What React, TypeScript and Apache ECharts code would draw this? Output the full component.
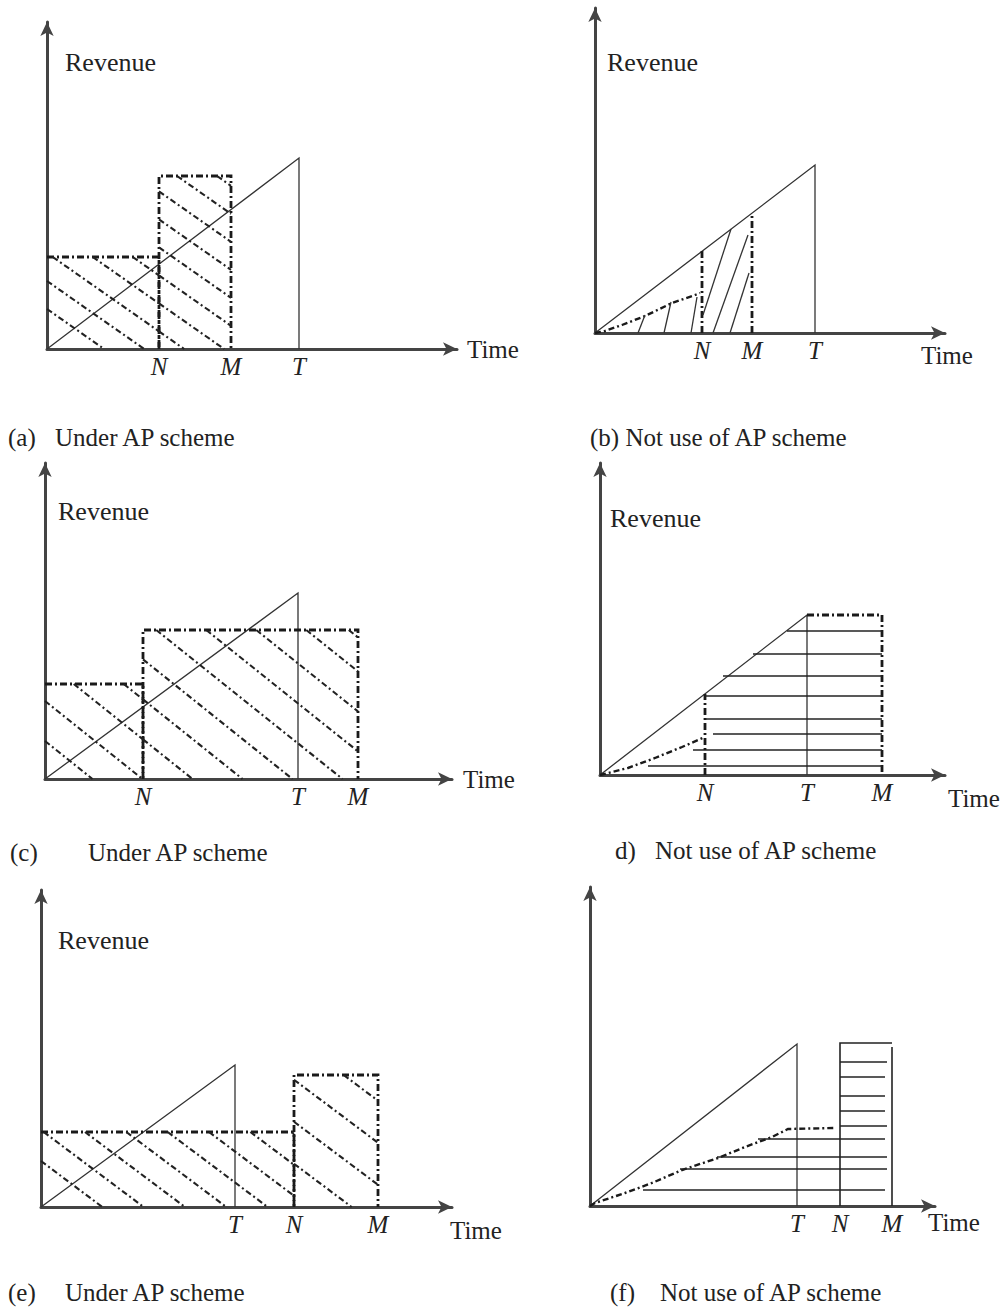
import React, { useEffect, useRef } from "react";
import * as echarts from "echarts";

const FONT = "'Liberation Serif', 'Times New Roman', serif";

// ---------- data (pixel-unit offsets from each panel's origin) ----------
// (a) Under AP scheme
const A_TICK_NAMES = ["N", "M", "T"];
const A_TICK_VALUES = [112, 184, 252];
const A_REVENUE = [[0, 0], [252, 191], [252, 0]];
const A_BOX1 = [[0, 92], [112, 92], [112, 0]];
const A_BOX2 = [[112, 0], [112, 173], [184, 173], [184, 0]];
const A_HATCH1 = [40, 68, 96, 124, 152];
const A_HATCH2 = [96, 124, 152, 180, 208, 236, 264, 292];

// (b) Not use of AP scheme
const B_TICK_NAMES = ["N", "M", "T"];
const B_TICK_VALUES = [107, 157, 220];
const B_REVENUE = [[0, 0], [220, 168], [220, 0]];
const B_N_DROP = [[107, 0], [107, 82]];
const B_M_DROP = [[157, 0], [157, 120]];
const B_CURVE = [[0, 0], [10, 2], [27, 8], [50, 17], [77, 30], [100, 38], [105, 40]];
const B_STROKES = [
  [[43, 0], [50, 18]],
  [[69, 0], [76, 31]],
  [[96, 0], [102, 36]],
  [[108, 18], [136, 104]],
  [[118, 0], [153, 98]],
  [[135, 0], [154, 60]],
];

// (c) Under AP scheme
const C_TICK_NAMES = ["N", "T", "M"];
const C_TICK_VALUES = [98, 253, 313];
const C_REVENUE = [[0, 0], [253, 186], [253, 0]];
const C_BOX1 = [[0, 95], [98, 95], [98, 0]];
const C_BOX2 = [[98, 0], [98, 149], [313, 149], [313, 0]];
const C_HATCH1 = [38, 78, 118, 158];
const C_HATCH2 = [118, 158, 198, 238, 278, 318, 358, 392];

// (d) Not use of AP scheme
const D_TICK_NAMES = ["N", "T", "M"];
const D_TICK_VALUES = [105, 207, 282];
const D_REVENUE = [[0, 0], [207, 160], [207, 0]];
const D_BOX = [[207, 160], [282, 160], [282, 0]];
const D_N_DROP = [[105, 0], [105, 81]];
const D_CURVE = [[0, 0], [8, 2], [28, 7], [55, 17], [82, 28], [105, 38]];
const D_ROW_LEVELS = [144, 121, 99, 79, 56, 41, 25, 9];
const D_ROW_STARTS = [187, 153, 123, 105, 105, 113, 93, 48];
const D_ROW_END = 282;

// (e) Under AP scheme
const E_TICK_NAMES = ["T", "N", "M"];
const E_TICK_VALUES = [194, 253, 337];
const E_REVENUE = [[0, 0], [194, 142], [194, 0]];
const E_BOX1 = [[0, 75], [253, 75], [253, 0]];
const E_BOX2 = [[253, 0], [253, 132], [337, 132], [337, 0]];
const E_HATCH1 = [46, 77, 108, 139, 170, 201, 232, 263];
const E_HATCH2 = [233, 275, 317, 359];

// (f) Not use of AP scheme
const F_TICK_NAMES = ["T", "N", "M"];
const F_TICK_VALUES = [207, 250, 302];
const F_REVENUE = [[0, 0], [207, 162], [207, 0]];
const F_BOX = [[250, 0], [250, 163], [302, 163]];
const F_M_EDGE = [[302, 0], [302, 159]];
const F_CURVE = [[0, 0], [5, 3], [35, 13], [62, 23], [92, 36], [128, 48], [155, 59], [182, 69], [198, 77], [245, 78]];
const F_ROW_LEVELS = [144, 129, 110, 95, 80, 67, 49, 37, 16];
const F_ROW_STARTS = [250, 250, 250, 250, 250, 168, 127, 90, 53];
const F_ROW_ENDS = [297, 295, 295, 295, 297, 295, 297, 297, 295];

// ---------- layout & styles ----------
const LAYOUT = [
  { left: 47, top: 22, width: 410, height: 327 },
  { left: 595, top: 8, width: 350, height: 325 },
  { left: 45, top: 463, width: 407, height: 316 },
  { left: 600, top: 463, width: 345, height: 312 },
  { left: 41, top: 890, width: 411, height: 317 },
  { left: 590, top: 887, width: 345, height: 319 },
];
const SLOPES = [0.7, 0, 0.8, 0, 0.75, 0];

const THIN = { color: "#333", width: 1.3, type: "solid" };
const SOLID = { color: "#222", width: 1.6, type: "solid" };
const BOX = { color: "#1a1a1a", width: 2.8, type: [7, 3, 2, 3] };
const HATCH = { color: "#222", width: 2.1, type: [6, 3, 2, 3] };
const CURVE = { color: "#1a1a1a", width: 2.4, type: [6, 3, 2, 3] };

function hatch(box: number[][], slope: number, intercepts: number[]) {
  const xs = box.map((p) => p[0]);
  const x0 = Math.min(...xs);
  const x1 = Math.max(...xs);
  const h = Math.max(...box.map((p) => p[1]));
  const out: number[][][] = [];
  intercepts.forEach((c) => {
    const xa = Math.max(x0, (c - h) / slope);
    const xb = Math.min(x1, c / slope);
    if (xb > xa + 0.5) out.push([[xa, c - slope * xa], [xb, c - slope * xb]]);
  });
  return out;
}

function lines(gi: number, paths: number[][][], style: any, name: string) {
  return {
    type: "lines",
    name,
    coordinateSystem: "cartesian2d",
    xAxisIndex: gi,
    yAxisIndex: gi,
    polyline: true,
    silent: true,
    symbol: "none",
    lineStyle: { ...style, opacity: 1, curveness: 0 },
    data: paths.map((p) => ({ coords: p })),
    z: 3,
  };
}

const AXIS_LINE = {
  show: true,
  onZero: true,
  symbol: ["none", "arrow"],
  symbolSize: [10, 14],
  lineStyle: { color: "#444", width: 3 },
};

const TIME_NAME = [
  { gap: 10, va: "middle", pad: [0, 0, 0, 0] },
  { gap: -24, va: "top", pad: [10, 0, 0, 0] },
  { gap: 11, va: "middle", pad: [12, 0, 0, 0] },
  { gap: 3, va: "top", pad: [11, 0, 0, 0] },
  { gap: -2, va: "top", pad: [11, 0, 0, 0] },
  { gap: -7, va: "top", pad: [4, 0, 0, 0] },
];
const REV_NAME = [
  { show: true, gap: -40, padL: 18 },
  { show: true, gap: -54, padL: 12 },
  { show: true, gap: -48, padL: 13 },
  { show: true, gap: -55, padL: 10 },
  { show: true, gap: -50, padL: 17 },
  { show: false, gap: 0, padL: 0 },
];

const TICKS = [
  [A_TICK_NAMES, A_TICK_VALUES],
  [B_TICK_NAMES, B_TICK_VALUES],
  [C_TICK_NAMES, C_TICK_VALUES],
  [D_TICK_NAMES, D_TICK_VALUES],
  [E_TICK_NAMES, E_TICK_VALUES],
  [F_TICK_NAMES, F_TICK_VALUES],
];

const CAPTIONS = [
  { x: 8, y: 437, text: "(a)" },
  { x: 55, y: 437, text: "Under AP scheme" },
  { x: 590, y: 437, text: "(b) Not use of AP scheme" },
  { x: 10, y: 852, text: "(c)" },
  { x: 88, y: 852, text: "Under AP scheme" },
  { x: 615, y: 850, text: "d)" },
  { x: 655, y: 850, text: "Not use of AP scheme" },
  { x: 8, y: 1292, text: "(e)" },
  { x: 65, y: 1292, text: "Under AP scheme" },
  { x: 610, y: 1292, text: "(f)" },
  { x: 660, y: 1292, text: "Not use of AP scheme" },
];

function buildOption() {
  const grid = LAYOUT.map((l) => ({ ...l, containLabel: false, outerBoundsMode: "none" }));
  const xAxis = LAYOUT.map((l, i) => {
    const [names, values] = TICKS[i] as [string[], number[]];
    const t = TIME_NAME[i];
    return {
      type: "value",
      gridIndex: i,
      min: 0,
      max: l.width,
      axisLine: AXIS_LINE,
      axisTick: { show: false },
      splitLine: { show: false },
      axisLabel: {
        customValues: values,
        formatter: (v: number) => names[values.indexOf(v)] ?? "",
        fontFamily: FONT,
        fontStyle: "italic",
        fontSize: 25,
        color: "#222",
        margin: 5,
      },
      name: "Time",
      nameLocation: "end",
      nameGap: t.gap,
      nameTextStyle: {
        fontFamily: FONT,
        fontSize: 25,
        color: "#222",
        align: "left",
        verticalAlign: t.va,
        padding: t.pad,
      },
    };
  });
  const yAxis = LAYOUT.map((l, i) => {
    const r = REV_NAME[i];
    return {
      type: "value",
      gridIndex: i,
      min: 0,
      max: l.height,
      axisLine: AXIS_LINE,
      axisTick: { show: false },
      splitLine: { show: false },
      axisLabel: { show: false },
      name: r.show ? "Revenue" : "",
      nameLocation: "end",
      nameGap: r.gap,
      nameTextStyle: {
        fontFamily: FONT,
        fontSize: 26,
        color: "#222",
        align: "left",
        verticalAlign: "middle",
        padding: [0, 0, 0, r.padL],
      },
    };
  });

  const series: any[] = [
    // (a)
    lines(0, [A_REVENUE], THIN, "a-revenue"),
    lines(0, [A_BOX1, A_BOX2], BOX, "a-boxes"),
    lines(0, [...hatch(A_BOX1, SLOPES[0], A_HATCH1), ...hatch(A_BOX2, SLOPES[0], A_HATCH2)], HATCH, "a-hatch"),
    // (b)
    lines(1, [B_REVENUE], THIN, "b-revenue"),
    lines(1, [B_N_DROP, B_M_DROP], BOX, "b-drops"),
    lines(1, [B_CURVE], CURVE, "b-curve"),
    lines(1, B_STROKES, THIN, "b-strokes"),
    // (c)
    lines(2, [C_REVENUE], THIN, "c-revenue"),
    lines(2, [C_BOX1, C_BOX2], BOX, "c-boxes"),
    lines(2, [...hatch(C_BOX1, SLOPES[2], C_HATCH1), ...hatch(C_BOX2, SLOPES[2], C_HATCH2)], HATCH, "c-hatch"),
    // (d)
    lines(3, [D_REVENUE], THIN, "d-revenue"),
    lines(3, [D_BOX, D_N_DROP], BOX, "d-box"),
    lines(3, [D_CURVE], CURVE, "d-curve"),
    lines(3, D_ROW_LEVELS.map((y, k) => [[D_ROW_STARTS[k], y], [D_ROW_END, y]]), SOLID, "d-rows"),
    // (e)
    lines(4, [E_REVENUE], THIN, "e-revenue"),
    lines(4, [E_BOX1, E_BOX2], BOX, "e-boxes"),
    lines(4, [...hatch(E_BOX1, SLOPES[4], E_HATCH1), ...hatch(E_BOX2, SLOPES[4], E_HATCH2)], HATCH, "e-hatch"),
    // (f)
    lines(5, [F_REVENUE], THIN, "f-revenue"),
    lines(5, [F_BOX, F_M_EDGE], SOLID, "f-box"),
    lines(5, [F_CURVE], CURVE, "f-curve"),
    lines(5, F_ROW_LEVELS.map((y, k) => [[F_ROW_STARTS[k], y], [F_ROW_ENDS[k], y]]), SOLID, "f-rows"),
  ];

  const graphic = CAPTIONS.map((c) => ({
    type: "text",
    x: c.x,
    y: c.y,
    silent: true,
    style: {
      text: c.text,
      font: `25px ${FONT}`,
      fill: "#222",
      align: "left",
      verticalAlign: "middle",
      textAlign: "left",
      textVerticalAlign: "middle",
    },
  }));

  return {
    animation: false,
    backgroundColor: "#ffffff",
    textStyle: { fontFamily: FONT },
    grid,
    xAxis,
    yAxis,
    series,
    graphic,
  };
}

export default function App() {
  const ref = useRef<HTMLDivElement>(null);
  useEffect(() => {
    if (!ref.current) return;
    const chart = echarts.init(ref.current, undefined, { renderer: "svg" });
    chart.setOption(buildOption() as any);
    return () => chart.dispose();
  }, []);
  return (
    <div
      ref={ref}
      style={{ position: "absolute", left: 0, top: 0, width: 1003, height: 1310, background: "#fff" }}
    />
  );
}
